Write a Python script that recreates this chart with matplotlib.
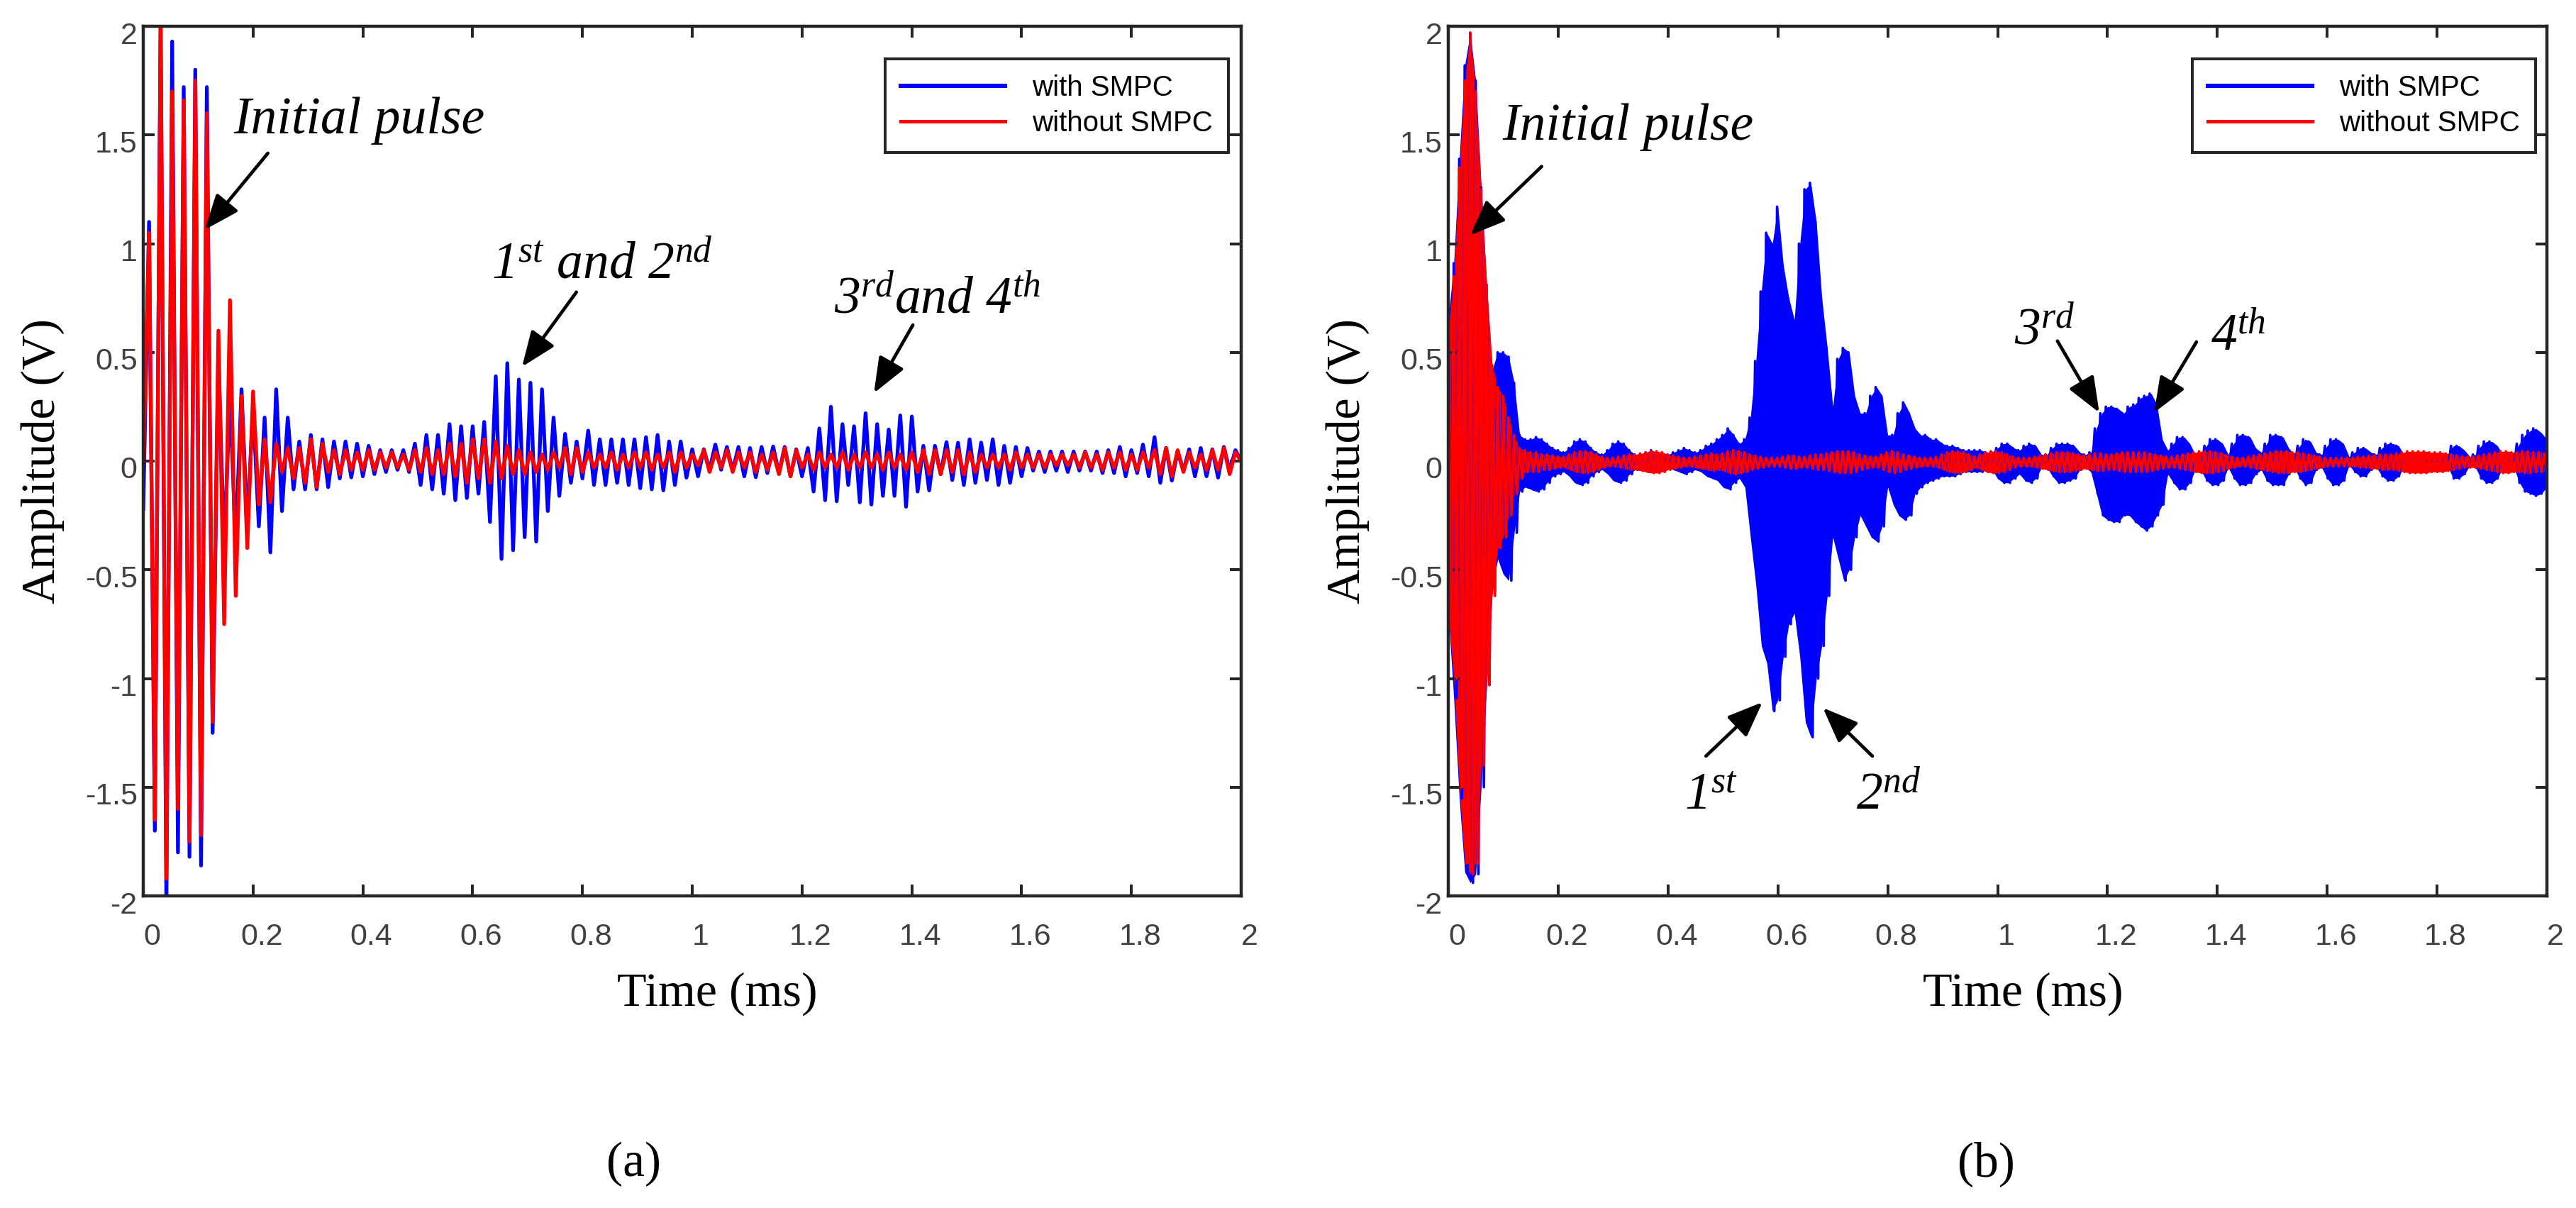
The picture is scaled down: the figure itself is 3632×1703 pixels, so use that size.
import numpy as np
import matplotlib
matplotlib.use("Agg")
import matplotlib.pyplot as plt
from matplotlib.lines import Line2D
from matplotlib.transforms import ScaledTranslation

#-------------- DATA -------------------------------------------
# (a): signed peak values of each half cycle, evenly spaced over 0..2 ms
blue_a = [
    -0.22, 1.10, -1.70, 2.05, -2.05, 1.93, -1.80, 1.72, -1.82, 1.80,
    -1.86, 1.72, -1.25, 0.48, -0.40, 0.30, -0.38, 0.33, -0.30, 0.25,
    -0.30, 0.20, -0.42, 0.33, -0.23, 0.20, -0.13, 0.09, -0.13, 0.12,
    -0.13, 0.10, -0.12, 0.09, -0.08, 0.09, -0.075, 0.08, -0.07, 0.07,
    -0.06, 0.05, -0.05, 0.05, -0.04, 0.05, -0.05, 0.08, -0.11, 0.12,
    -0.13, 0.12, -0.15, 0.17, -0.18, 0.16, -0.17, 0.16, -0.15, 0.18,
    -0.28, 0.39, -0.45, 0.45, -0.41, 0.375, -0.35, 0.36, -0.37, 0.33,
    -0.23, 0.20, -0.16, 0.125, -0.10, 0.09, -0.08, 0.14, -0.11, 0.10,
    -0.11, 0.10, -0.10, 0.10, -0.11, 0.10, -0.125, 0.11, -0.13, 0.12,
    -0.135, 0.09, -0.11, 0.09, -0.076, 0.054, -0.07, 0.054, -0.04, 0.076,
    -0.04, 0.065, -0.045, 0.065, -0.07, 0.06, -0.074, 0.065, -0.055, 0.067,
    -0.055, 0.065, -0.07, 0.054, -0.07, 0.06, -0.14, 0.15, -0.18, 0.25,
    -0.185, 0.17, -0.11, 0.16, -0.19, 0.22, -0.20, 0.17, -0.16, 0.145,
    -0.16, 0.21, -0.21, 0.205, -0.14, 0.07, -0.135, 0.07, -0.06, 0.087,
    -0.087, 0.084, -0.11, 0.10, -0.10, 0.085, -0.087, 0.10, -0.11, 0.07,
    -0.10, 0.065, -0.07, 0.06, -0.044, 0.044, -0.05, 0.044, -0.044, 0.044,
    -0.05, 0.044, -0.044, 0.044, -0.044, 0.044, -0.055, 0.05, -0.055, 0.065,
    -0.07, 0.05, -0.055, 0.076, -0.07, 0.11, -0.10, 0.06, -0.09, 0.044,
    -0.044, 0.054, -0.07, 0.06, -0.07, 0.054, -0.076, 0.065, -0.044, 0.05,
    0.0,
]
red_a = [
    0.0, 1.05, -1.65, 2.0, -1.92, 1.70, -1.60, 1.66, -1.75, 1.75,
    -1.72, 1.60, -1.20, 0.60, -0.75, 0.74, -0.62, 0.30, -0.40, 0.32,
    -0.20, 0.10, -0.19, 0.08, -0.05, 0.06, -0.08, 0.06, -0.10, 0.10,
    -0.12, 0.08, -0.05, 0.05, -0.06, 0.05, -0.04, 0.04, -0.04, 0.05,
    -0.04, 0.04, -0.03, 0.04, -0.03, 0.03, -0.04, 0.05, -0.05, 0.06,
    -0.06, 0.05, -0.06, 0.08, -0.07, 0.08, -0.10, 0.10, -0.08, 0.10,
    -0.10, 0.09, -0.08, 0.07, -0.06, 0.05, -0.06, 0.04, -0.05, 0.03,
    -0.04, 0.04, -0.03, 0.06, -0.06, 0.06, -0.05, 0.04, -0.03, 0.03,
    -0.03, 0.04, -0.04, 0.03, -0.03, 0.04, -0.03, 0.04, -0.04, 0.03,
    -0.03, 0.04, -0.05, 0.04, -0.03, 0.03, -0.02, 0.05, -0.05, 0.04,
    -0.03, 0.05, -0.05, 0.04, -0.03, 0.04, -0.05, 0.03, -0.04, 0.04,
    -0.06, 0.06, -0.07, 0.05, -0.03, 0.03, -0.04, 0.04, -0.03, 0.03,
    -0.03, 0.04, -0.04, 0.03, -0.03, 0.04, -0.03, 0.03, -0.04, 0.04,
    -0.03, 0.03, -0.04, 0.04, -0.05, 0.05, -0.06, 0.05, -0.06, 0.05,
    -0.05, 0.05, -0.06, 0.04, -0.05, 0.03, -0.03, 0.03, -0.03, 0.03,
    -0.04, 0.04, -0.03, 0.03, -0.03, 0.03, -0.03, 0.03, -0.02, 0.03,
    -0.02, 0.03, -0.03, 0.04, -0.03, 0.03, -0.04, 0.04, -0.03, 0.04,
    -0.04, 0.03, -0.04, 0.04, -0.03, 0.05, -0.06, 0.06, -0.07, 0.05,
    -0.05, 0.04, -0.03, 0.03, -0.04, 0.05, -0.04, 0.06, -0.06, 0.04,
    0.0,
]

# (b): max / min of the dense signal in 0.01 ms bins, 0..2 ms
blue_b_up = [
    0.65, 0.91, 1.39, 1.82, 1.97, 1.75, 1.26, 0.81, 0.42, 0.50,
    0.50, 0.48, 0.36, 0.12, 0.10, 0.10, 0.11, 0.10, 0.08, 0.06,
    0.05, 0.04, 0.06, 0.09, 0.10, 0.09, 0.06, 0.04, 0.03, 0.05,
    0.08, 0.09, 0.08, 0.05, 0.03, 0.03, 0.04, 0.05, 0.04, 0.03,
    0.03, 0.04, 0.05, 0.06, 0.05, 0.04, 0.05, 0.07, 0.08, 0.10,
    0.12, 0.15, 0.12, 0.08, 0.10, 0.20, 0.46, 0.78, 1.05, 1.00,
    1.17, 0.90, 0.75, 0.65, 1.00, 1.25, 1.28, 1.10, 0.75, 0.52,
    0.25, 0.47, 0.52, 0.50, 0.30, 0.22, 0.22, 0.30, 0.34, 0.30,
    0.12, 0.12, 0.22, 0.27, 0.22, 0.15, 0.12, 0.12, 0.10, 0.10,
    0.08, 0.07, 0.07, 0.06, 0.05, 0.05, 0.05, 0.05, 0.04, 0.04,
    0.06, 0.08, 0.08, 0.06, 0.05, 0.07, 0.08, 0.07, 0.03, 0.03,
    0.06, 0.08, 0.08, 0.08, 0.07, 0.04, 0.03, 0.04, 0.15, 0.22,
    0.25, 0.25, 0.24, 0.22, 0.25, 0.26, 0.29, 0.30, 0.31, 0.26,
    0.10, 0.05, 0.08, 0.11, 0.11, 0.08, 0.03, 0.03, 0.07, 0.10,
    0.10, 0.08, 0.03, 0.08, 0.12, 0.12, 0.11, 0.06, 0.04, 0.08,
    0.12, 0.12, 0.11, 0.06, 0.03, 0.07, 0.10, 0.09, 0.04, 0.03,
    0.07, 0.10, 0.10, 0.08, 0.02, 0.04, 0.06, 0.06, 0.04, 0.03,
    0.06, 0.08, 0.08, 0.07, 0.03, 0.02, 0.02, 0.02, 0.02, 0.02,
    0.02, 0.02, 0.03, 0.07, 0.07, 0.05, 0.02, 0.03, 0.07, 0.09,
    0.09, 0.07, 0.03, 0.02, 0.03, 0.08, 0.12, 0.14, 0.15, 0.13,
    0.10,
]
blue_b_lo = [
    -0.70, -1.09, -1.55, -1.89, -1.94, -1.90, -1.50, -1.03, -0.60, -0.45,
    -0.52, -0.55, -0.33, -0.14, -0.12, -0.13, -0.14, -0.13, -0.10, -0.07,
    -0.06, -0.05, -0.07, -0.10, -0.11, -0.10, -0.07, -0.05, -0.04, -0.06,
    -0.09, -0.10, -0.09, -0.06, -0.04, -0.04, -0.05, -0.05, -0.04, -0.03,
    -0.03, -0.04, -0.05, -0.06, -0.05, -0.04, -0.05, -0.07, -0.08, -0.09,
    -0.12, -0.13, -0.10, -0.08, -0.12, -0.35, -0.57, -0.85, -0.93, -1.15,
    -1.10, -0.90, -0.75, -0.70, -0.90, -1.20, -1.27, -1.00, -0.85, -0.62,
    -0.35, -0.45, -0.55, -0.50, -0.35, -0.25, -0.30, -0.35, -0.37, -0.30,
    -0.12, -0.20, -0.25, -0.27, -0.25, -0.15, -0.12, -0.10, -0.09, -0.08,
    -0.07, -0.07, -0.07, -0.06, -0.05, -0.05, -0.05, -0.05, -0.04, -0.04,
    -0.08, -0.10, -0.10, -0.08, -0.06, -0.09, -0.10, -0.08, -0.03, -0.03,
    -0.07, -0.10, -0.10, -0.09, -0.08, -0.04, -0.03, -0.05, -0.15, -0.25,
    -0.27, -0.28, -0.28, -0.25, -0.25, -0.28, -0.30, -0.32, -0.30, -0.25,
    -0.20, -0.06, -0.10, -0.13, -0.13, -0.10, -0.04, -0.04, -0.09, -0.11,
    -0.11, -0.09, -0.03, -0.08, -0.11, -0.11, -0.10, -0.06, -0.04, -0.09,
    -0.11, -0.11, -0.11, -0.06, -0.03, -0.08, -0.11, -0.10, -0.04, -0.03,
    -0.08, -0.11, -0.11, -0.09, -0.02, -0.05, -0.07, -0.07, -0.04, -0.03,
    -0.07, -0.09, -0.09, -0.07, -0.03, -0.02, -0.02, -0.02, -0.02, -0.02,
    -0.02, -0.02, -0.03, -0.08, -0.08, -0.06, -0.02, -0.03, -0.08, -0.10,
    -0.10, -0.08, -0.03, -0.02, -0.03, -0.10, -0.14, -0.15, -0.16, -0.15,
    -0.12,
]
red_b_up = [
    0.60, 0.85, 1.35, 1.75, 1.97, 1.70, 1.25, 0.81, 0.44, 0.34,
    0.30, 0.20, 0.12, 0.06, 0.05, 0.04, 0.04, 0.03, 0.03, 0.025,
    0.02, 0.02, 0.03, 0.04, 0.045, 0.045, 0.04, 0.03, 0.02, 0.015,
    0.015, 0.02, 0.025, 0.03, 0.03, 0.035, 0.04, 0.045, 0.045, 0.04,
    0.03, 0.025, 0.02, 0.015, 0.015, 0.02, 0.025, 0.03, 0.035, 0.03,
    0.035, 0.045, 0.05, 0.045, 0.04, 0.03, 0.025, 0.02, 0.015, 0.015,
    0.015, 0.02, 0.025, 0.025, 0.02, 0.02, 0.025, 0.03, 0.03, 0.035,
    0.04, 0.045, 0.045, 0.045, 0.04, 0.03, 0.025, 0.02, 0.02, 0.03,
    0.04, 0.045, 0.04, 0.03, 0.025, 0.02, 0.015, 0.015, 0.015, 0.02,
    0.03, 0.04, 0.045, 0.045, 0.04, 0.03, 0.02, 0.03, 0.04, 0.045,
    0.045, 0.04, 0.03, 0.02, 0.015, 0.015, 0.015, 0.02, 0.025, 0.03,
    0.035, 0.04, 0.04, 0.04, 0.035, 0.03, 0.025, 0.03, 0.035, 0.035,
    0.03, 0.03, 0.035, 0.04, 0.04, 0.04, 0.04, 0.04, 0.035, 0.03,
    0.025, 0.02, 0.02, 0.025, 0.03, 0.035, 0.04, 0.045, 0.045, 0.045,
    0.04, 0.035, 0.025, 0.02, 0.015, 0.015, 0.02, 0.025, 0.03, 0.035,
    0.04, 0.045, 0.045, 0.045, 0.04, 0.04, 0.035, 0.03, 0.025, 0.02,
    0.015, 0.015, 0.015, 0.015, 0.015, 0.015, 0.02, 0.02, 0.025, 0.025,
    0.03, 0.03, 0.03, 0.035, 0.04, 0.045, 0.045, 0.045, 0.045, 0.04,
    0.04, 0.04, 0.035, 0.03, 0.025, 0.02, 0.02, 0.02, 0.025, 0.03,
    0.035, 0.04, 0.045, 0.045, 0.04, 0.04, 0.045, 0.045, 0.04, 0.04,
    0.035,
]
red_b_lo = [
    -0.70, -1.00, -1.50, -1.85, -1.90, -1.85, -1.40, -1.03, -0.62, -0.40,
    -0.35, -0.25, -0.15, -0.08, -0.05, -0.05, -0.05, -0.04, -0.04, -0.035,
    -0.03, -0.03, -0.04, -0.05, -0.055, -0.055, -0.05, -0.04, -0.03, -0.025,
    -0.025, -0.03, -0.035, -0.04, -0.04, -0.045, -0.05, -0.055, -0.055, -0.05,
    -0.04, -0.035, -0.03, -0.025, -0.025, -0.03, -0.035, -0.04, -0.045, -0.04,
    -0.045, -0.055, -0.06, -0.055, -0.05, -0.04, -0.035, -0.03, -0.025, -0.025,
    -0.025, -0.03, -0.035, -0.035, -0.03, -0.03, -0.035, -0.04, -0.04, -0.045,
    -0.05, -0.055, -0.055, -0.055, -0.05, -0.04, -0.035, -0.03, -0.03, -0.04,
    -0.05, -0.055, -0.05, -0.04, -0.035, -0.03, -0.025, -0.025, -0.025, -0.03,
    -0.04, -0.05, -0.055, -0.055, -0.05, -0.04, -0.03, -0.04, -0.05, -0.055,
    -0.055, -0.05, -0.04, -0.03, -0.025, -0.025, -0.025, -0.03, -0.035, -0.04,
    -0.045, -0.05, -0.05, -0.05, -0.045, -0.04, -0.035, -0.04, -0.045, -0.045,
    -0.04, -0.04, -0.045, -0.05, -0.05, -0.05, -0.05, -0.05, -0.045, -0.04,
    -0.035, -0.03, -0.03, -0.035, -0.04, -0.045, -0.05, -0.055, -0.055, -0.055,
    -0.05, -0.045, -0.035, -0.03, -0.025, -0.025, -0.03, -0.035, -0.04, -0.045,
    -0.05, -0.055, -0.055, -0.055, -0.05, -0.05, -0.045, -0.04, -0.035, -0.03,
    -0.025, -0.025, -0.025, -0.025, -0.025, -0.025, -0.03, -0.03, -0.035, -0.035,
    -0.04, -0.04, -0.04, -0.045, -0.05, -0.055, -0.055, -0.055, -0.055, -0.05,
    -0.05, -0.05, -0.045, -0.04, -0.035, -0.03, -0.03, -0.03, -0.035, -0.04,
    -0.045, -0.05, -0.055, -0.055, -0.05, -0.05, -0.055, -0.055, -0.05, -0.05,
    -0.045,
]

x_ticks = [0, 0.2, 0.4, 0.6, 0.8, 1.0, 1.2, 1.4, 1.6, 1.8, 2.0]
x_tick_labels = ["0", "0.2", "0.4", "0.6", "0.8", "1", "1.2", "1.4", "1.6", "1.8", "2"]
y_ticks = [-2, -1.5, -1, -0.5, 0, 0.5, 1, 1.5, 2]
y_tick_labels = ["-2", "-1.5", "-1", "-0.5", "0", "0.5", "1", "1.5", "2"]
series_names = ["with SMPC", "without SMPC"]
#-------------- DATA END ---------------------

plt.rcParams["font.family"] = "Liberation Sans"
plt.rcParams["mathtext.fontset"] = "custom"
plt.rcParams["mathtext.rm"] = "Liberation Serif"
plt.rcParams["mathtext.it"] = "Liberation Serif:italic"

W, H = 3632, 1703
fig = plt.figure(figsize=(W / 100, H / 100), dpi=100)
ax_a = fig.add_axes([202 / W, 1 - 1263 / H, 1548 / W, 1226 / H])
ax_b = fig.add_axes([2042 / W, 1 - 1263 / H, 1549 / W, 1226 / H])

BLUE = "#0000ff"
RED = "#ff0000"
DARK = "#262626"
SERIF = "Liberation Serif"


def dense_band(ax, up, lo, color):
    # dense signal: solid band between bin max/min plus a zigzag for the spiky edge
    n = min(len(up), len(lo))
    t = np.linspace(0, 2, n)
    ax.fill_between(t, lo[:n], up[:n], color=color, lw=0)
    y = np.column_stack([up[:n], lo[:n]]).ravel()
    x = np.linspace(0, 2, y.size)
    ax.plot(x, y, color=color, lw=2.6)


def style_axes(ax, legend_x):
    ax.set_xlim(0, 2)
    ax.set_ylim(-2, 2)
    ax.set_xticks(x_ticks)
    ax.set_xticklabels(x_tick_labels)
    ax.set_yticks(y_ticks)
    ax.set_yticklabels(y_tick_labels)
    ax.tick_params(direction="in", length=11.5, width=2.9, top=True, right=True,
                   color=DARK, labelcolor="#404040", labelsize=31)
    ax.tick_params(axis="x", pad=27)
    ax.tick_params(axis="y", pad=6)
    for sp in ax.spines.values():
        sp.set_linewidth(3.2)
        sp.set_color(DARK)
    dx = ScaledTranslation(0.12, 0, fig.dpi_scale_trans)
    for lab in ax.get_xticklabels():
        lab.set_transform(lab.get_transform() + dx)
    dy = ScaledTranslation(0, -0.09, fig.dpi_scale_trans)
    for lab in ax.get_yticklabels():
        lab.set_transform(lab.get_transform() + dy)

    ax.set_xlabel("Time (ms)", fontfamily=SERIF, fontsize=49)
    ax.xaxis.set_label_coords(0.523, -0.088)
    ax.set_ylabel("Amplitude (V)", fontfamily=SERIF, fontsize=49)
    ax.yaxis.set_label_coords(-0.0717, 0.5)

    handles = [Line2D([], [], color=BLUE, lw=4.3), Line2D([], [], color=RED, lw=3.6)]
    leg = ax.legend(handles, series_names, loc="upper right",
                    bbox_to_anchor=(legend_x, 0.9625), borderaxespad=0,
                    fontsize=29, handlelength=3.65, handletextpad=0.95,
                    borderpad=0.55, labelspacing=0.3, fancybox=False,
                    framealpha=1, edgecolor=DARK)
    leg.get_frame().set_linewidth(2.9)


def arrow(ax, tail, tip):
    ax.annotate("", xy=tip, xytext=tail,
                arrowprops=dict(arrowstyle="-|>,head_length=0.4,head_width=0.16",
                                mutation_scale=76, lw=3.4, color="k",
                                shrinkA=0, shrinkB=0))


def label(ax, x, y, s):
    ax.text(x, y, s, fontfamily=SERIF, fontstyle="italic", fontsize=53,
            ha="left", va="baseline")


# ---- (a) ----
ax_a.plot(np.linspace(0, 2, len(blue_a)), blue_a, color=BLUE, lw=3.8)
ax_a.plot(np.linspace(0, 2, len(red_a)), red_a, color=RED, lw=3.8)
style_axes(ax_a, 0.9884)

label(ax_a, 0.165, 1.508, "Initial pulse")
arrow(ax_a, (0.227, 1.416), (0.112, 1.064))
label(ax_a, 0.634, 0.838, r"1$^{\mathit{st}}$ and 2$^{\mathit{nd}}$")
arrow(ax_a, (0.789, 0.777), (0.690, 0.434))
label(ax_a, 1.258, 0.679, r"3$^{\mathit{rd}}$and 4$^{\mathit{th}}$")
arrow(ax_a, (1.402, 0.626), (1.331, 0.313))

# ---- (b) ----
dense_band(ax_b, blue_b_up, blue_b_lo, BLUE)
dense_band(ax_b, red_b_up, red_b_lo, RED)
style_axes(ax_b, 0.9897)

label(ax_b, 0.098, 1.478, "Initial pulse")
arrow(ax_b, (0.170, 1.355), (0.040, 1.039))
label(ax_b, 0.430, -1.602, r"1$^{\mathit{st}}$")
arrow(ax_b, (0.469, -1.357), (0.572, -1.109))
label(ax_b, 0.742, -1.602, r"2$^{\mathit{nd}}$")
arrow(ax_b, (0.772, -1.357), (0.682, -1.135))
label(ax_b, 1.030, 0.535, r"3$^{\mathit{rd}}$")
arrow(ax_b, (1.109, 0.552), (1.185, 0.223))
label(ax_b, 1.388, 0.509, r"4$^{\mathit{th}}$")
arrow(ax_b, (1.362, 0.548), (1.285, 0.223))

fig.text(893 / W, 1 - 1658 / H, "(a)", ha="center", va="baseline",
         fontfamily=SERIF, fontsize=50)
fig.text(2800 / W, 1 - 1658 / H, "(b)", ha="center", va="baseline",
         fontfamily=SERIF, fontsize=50)

fig.savefig("out.png", dpi=100)
